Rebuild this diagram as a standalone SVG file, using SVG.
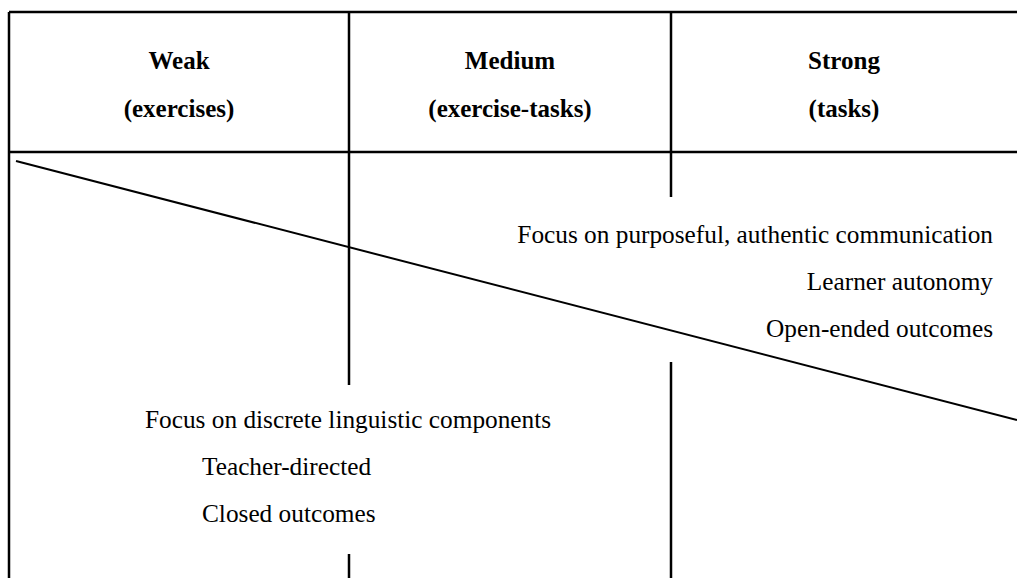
<svg xmlns="http://www.w3.org/2000/svg" width="1017" height="578" viewBox="0 0 1017 578">
<style>
.ln{stroke:#000;stroke-width:2.5;fill:none}
.dg{stroke:#000;stroke-width:2;fill:none}
.hd{font-family:"Liberation Serif","Times New Roman",serif;font-weight:bold;font-size:25px;text-anchor:middle;fill:#000}
.tx{font-family:"Liberation Serif","Times New Roman",serif;font-size:25.3px;fill:#000}
.r{text-anchor:end}
</style>
<rect width="1017" height="578" fill="#fff"/>
<g id="connectors">
<line class="ln" x1="9" y1="12" x2="1017" y2="12"/>
<line class="ln" x1="9" y1="12" x2="9" y2="578"/>
<line class="ln" x1="9" y1="152" x2="1017" y2="152"/>
<line class="ln" x1="349" y1="12" x2="349" y2="385"/>
<line class="ln" x1="349" y1="554" x2="349" y2="578"/>
<line class="ln" x1="671" y1="12" x2="671" y2="197"/>
<line class="ln" x1="671" y1="362" x2="671" y2="578"/>
<line class="dg" x1="16" y1="161" x2="1017" y2="420"/>
</g>
<g id="weak">
<text class="hd" x="179" y="69">Weak</text>
<text class="hd" x="179" y="117">(exercises)</text>
</g>
<g id="medium">
<text class="hd" x="510" y="69">Medium</text>
<text class="hd" x="510" y="117">(exercise-tasks)</text>
</g>
<g id="strong">
<text class="hd" x="844" y="69">Strong</text>
<text class="hd" x="844" y="117">(tasks)</text>
</g>
<g id="strong-features">
<text class="tx r" x="993" y="243">Focus on purposeful, authentic communication</text>
<text class="tx r" x="993" y="290">Learner autonomy</text>
<text class="tx r" x="993" y="337">Open-ended outcomes</text>
</g>
<g id="weak-features">
<text class="tx" x="145" y="428">Focus on discrete linguistic components</text>
<text class="tx" x="202" y="475">Teacher-directed</text>
<text class="tx" x="202" y="522">Closed outcomes</text>
</g>
</svg>
